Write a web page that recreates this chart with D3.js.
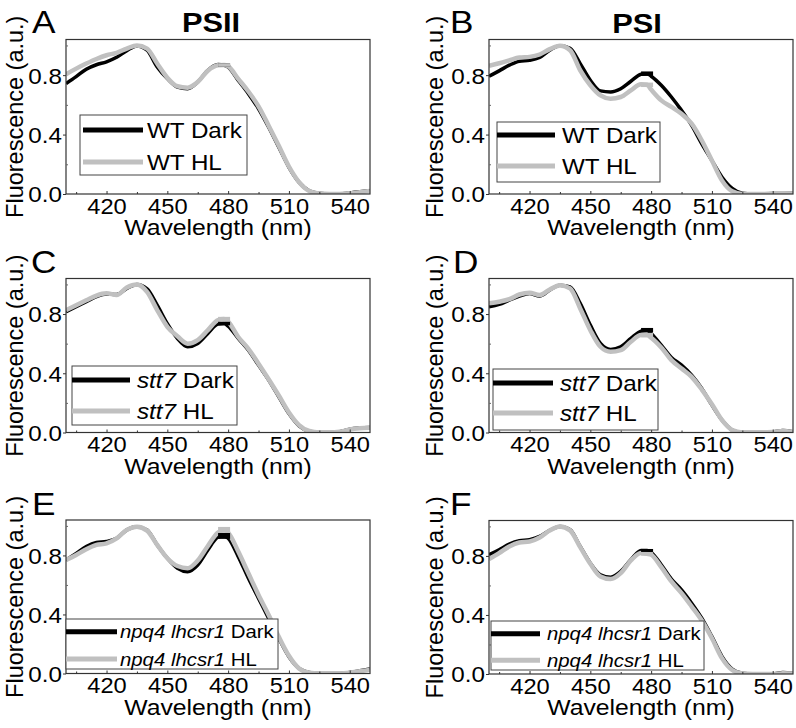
<!DOCTYPE html>
<html>
<head>
<meta charset="utf-8">
<script src="https://cdn.jsdelivr.net/npm/d3@7"></script>
<style>
  html, body { margin: 0; padding: 0; background: #fff; }
  svg { display: block; }
  text { font-family: "Liberation Sans", Arial, sans-serif; fill: #000; }
</style>
</head>
<body>
<svg id="chart" width="796" height="728"></svg>
<script>
// ---------------- data ----------------
const wavelengths = [400,405,410,415,420,425,430,435,440,445,450,455,460,465,470,475,478,480,485,490,495,500,505,510,515,520,525,530,535,540,545,550];

const xTicks = [420, 450, 480, 510, 540];
const xMinorTicks = [405, 435, 465, 495, 525];
const yTicks = [0.0, 0.4, 0.8];
const yMinorTicks = [0.2, 0.6, 1.0];

const panelLetters = ["A", "B", "C", "D", "E", "F"];
const columnTitles = ["PSII", "PSI"];
const genotypes = ["WT", "stt7", "npq4 lhcsr1"];
const conditions = ["Dark", "HL"];

const psiiWTDark = [0.743,0.79,0.84,0.87,0.89,0.92,0.965,0.997,0.968,0.855,0.777,0.72,0.709,0.754,0.833,0.871,0.867,0.855,0.765,0.675,0.574,0.45,0.315,0.18,0.079,0.022,0.005,0,0,0.007,0.016,0.022];
const psiiWTHL   = [0.806,0.844,0.878,0.909,0.934,0.95,0.979,1.0,0.979,0.878,0.783,0.725,0.716,0.754,0.83,0.866,0.868,0.86,0.775,0.69,0.59,0.46,0.325,0.185,0.08,0.02,0.003,0,0,0.005,0.012,0.02];
const psiWTDark  = [0.793,0.829,0.867,0.894,0.9,0.919,0.968,0.998,0.98,0.878,0.766,0.694,0.687,0.709,0.759,0.806,0.81,0.793,0.732,0.653,0.563,0.462,0.338,0.225,0.113,0.038,0.005,0,0,0.003,0.004,0.005];
const psiWTHL    = [0.863,0.88,0.9,0.919,0.923,0.939,0.975,0.998,0.968,0.833,0.732,0.664,0.642,0.653,0.698,0.739,0.735,0.703,0.63,0.586,0.54,0.473,0.36,0.225,0.09,0.018,0,0,0,0.003,0.003,0.003];
const psiiStt7Dark = [0.815,0.849,0.883,0.917,0.935,0.932,0.973,1.0,0.97,0.86,0.735,0.635,0.579,0.601,0.669,0.732,0.736,0.718,0.635,0.556,0.455,0.354,0.241,0.128,0.045,0.009,0,0,0.005,0.022,0.03,0.034];
const psiiStt7HL   = [0.826,0.86,0.893,0.925,0.94,0.928,0.98,1.0,0.95,0.827,0.714,0.65,0.6,0.624,0.691,0.759,0.766,0.748,0.645,0.565,0.465,0.36,0.25,0.135,0.05,0.01,0,0,0.005,0.02,0.028,0.032];
const psiStt7Dark  = [0.849,0.865,0.894,0.921,0.939,0.921,0.962,0.995,0.984,0.872,0.725,0.601,0.561,0.579,0.635,0.685,0.691,0.669,0.59,0.507,0.455,0.387,0.297,0.185,0.083,0.016,0,0,0,0.004,0.013,0.004];
const psiStt7HL    = [0.872,0.883,0.9,0.932,0.944,0.928,0.966,0.995,0.973,0.838,0.691,0.579,0.545,0.556,0.613,0.658,0.658,0.64,0.574,0.489,0.432,0.376,0.29,0.191,0.083,0.016,0,0,0,0.003,0.01,0.004];
const psiiNpqDark  = [0.769,0.814,0.86,0.887,0.894,0.916,0.973,0.995,0.973,0.871,0.781,0.713,0.69,0.735,0.837,0.923,0.932,0.916,0.792,0.645,0.509,0.373,0.238,0.113,0.034,0.007,0,0,0,0.007,0.018,0.03];
const psiiNpqHL    = [0.769,0.803,0.842,0.871,0.882,0.916,0.973,0.995,0.968,0.871,0.781,0.728,0.713,0.765,0.864,0.955,0.973,0.955,0.826,0.679,0.532,0.396,0.249,0.12,0.034,0.005,0,0,0,0.005,0.015,0.025];
const psiNpqDark   = [0.808,0.842,0.88,0.903,0.91,0.932,0.973,1.0,0.977,0.864,0.751,0.672,0.656,0.695,0.774,0.837,0.837,0.824,0.74,0.643,0.57,0.48,0.378,0.253,0.118,0.034,0.005,0,0,0,0.011,0.005];
const psiNpqHL     = [0.778,0.819,0.864,0.891,0.898,0.925,0.973,1.0,0.973,0.86,0.747,0.661,0.643,0.683,0.769,0.819,0.814,0.808,0.724,0.627,0.548,0.457,0.362,0.242,0.106,0.027,0.003,0,0,0,0.005,0.003];

// error bars shown at the 478 nm peak
const errWavelength = 478;
const errDark = [0.012, 0.015, 0.012, 0.015, 0.02, 0.01];
const errHL   = [0.012, 0.015, 0.015, 0.015, 0.02, 0.012];

const seriesDark = [psiiWTDark, psiWTDark, psiiStt7Dark, psiStt7Dark, psiiNpqDark, psiNpqDark];
const seriesHL   = [psiiWTHL, psiWTHL, psiiStt7HL, psiStt7HL, psiiNpqHL, psiNpqHL];

// ---------------- layout ----------------
const frames = [
  {x0: 66,  x1: 370, y0: 39.5,  y1: 194},
  {x0: 489, x1: 793, y0: 39.5,  y1: 194},
  {x0: 66,  x1: 370, y0: 278.5, y1: 432.5},
  {x0: 489, x1: 793, y0: 278.5, y1: 432.5},
  {x0: 66,  x1: 370, y0: 520,   y1: 673.5},
  {x0: 489, x1: 793, y0: 520.5, y1: 674}
];
const legendBoxes = [
  {x: 80,  y: 115, w: 167, h: 60, r1: 15, r2: 47, l0: 83,  l1: 143, tx: 147, fs: 22},
  {x: 497, y: 122, w: 163, h: 60, r1: 13, r2: 44, l0: 497, l1: 555, tx: 562, fs: 22},
  {x: 72,  y: 366, w: 165, h: 59, r1: 14, r2: 45, l0: 72,  l1: 130, tx: 137, fs: 22},
  {x: 493, y: 369, w: 165, h: 61, r1: 14, r2: 44, l0: 493, l1: 553, tx: 560, fs: 22},
  {x: 66,  y: 619, w: 212, h: 50, r1: 12.7, r2: 40, l0: 66,  l1: 117, tx: 120, fs: 18.5},
  {x: 491, y: 621, w: 213, h: 49, r1: 12.7, r2: 39.3, l0: 491, l1: 540, tx: 547, fs: 18.5}
];
const letterPos = [{x: 32, y: 33}, {x: 450, y: 33}, {x: 31, y: 273}, {x: 453, y: 273}, {x: 32, y: 515}, {x: 450, y: 515}];
const titlePos = [{x: 211, y: 32}, {x: 637, y: 33}];

const SX = 1.1; // horizontal stretch of the original typesetting
const darkColor = "#000000";
const hlColor = "#c0c0c0";

const svg = d3.select("#chart");

function stretchText(sel, x, y, sx) {
  return sel.attr("transform", `translate(${x},${y}) scale(${sx},1)`);
}

// titles
columnTitles.forEach((t, i) => {
  stretchText(svg.append("text"), titlePos[i].x, titlePos[i].y, SX)
    .attr("text-anchor", "middle").attr("font-size", 28).attr("font-weight", "bold").text(t);
});

frames.forEach((f, i) => {
  const g = svg.append("g");
  const x = d3.scaleLinear().domain([400, 550]).range([f.x0, f.x1]);
  const y = d3.scaleLinear().domain([0, 1.04]).range([f.y1, f.y0]);

  // panel letter
  stretchText(g.append("text"), letterPos[i].x, letterPos[i].y, SX)
    .attr("font-size", 32).text(panelLetters[i]);

  // clip
  const clipId = "clip" + i;
  g.append("clipPath").attr("id", clipId).append("rect")
    .attr("x", f.x0).attr("y", f.y0).attr("width", f.x1 - f.x0).attr("height", f.y1 - f.y0);

  const line = d3.line().x((d, k) => x(wavelengths[k])).y(d => y(d)).curve(d3.curveMonotoneX);
  const plot = g.append("g").attr("clip-path", `url(#${clipId})`);
  const k478 = wavelengths.indexOf(errWavelength);

  plot.append("path").datum(seriesDark[i]).attr("d", line)
    .attr("fill", "none").attr("stroke", darkColor).attr("stroke-width", 3.5).attr("stroke-linejoin", "round");
  plot.append("path").datum(seriesHL[i]).attr("d", line)
    .attr("fill", "none").attr("stroke", hlColor).attr("stroke-width", 4.5).attr("stroke-linejoin", "round");

  // error caps at 478 nm
  [[seriesDark[i], errDark[i], darkColor], [seriesHL[i], errHL[i], hlColor]].forEach(([s, e, c]) => {
    const v = s[k478];
    plot.append("rect")
      .attr("x", x(errWavelength) - 6).attr("width", 12)
      .attr("y", y(v + e)).attr("height", y(v - e) - y(v + e))
      .attr("fill", c);
  });

  // frame
  g.append("rect").attr("x", f.x0).attr("y", f.y0).attr("width", f.x1 - f.x0).attr("height", f.y1 - f.y0)
    .attr("fill", "none").attr("stroke", "#333").attr("stroke-width", 1.2);

  // x axis
  const xa = g.append("g").attr("transform", `translate(0,${f.y1})`)
    .call(d3.axisBottom(x).tickValues(xTicks).tickSize(-3).tickPadding(0).tickFormat(d3.format("d")));
  xa.select(".domain").remove();
  xa.selectAll(".tick line").attr("stroke", "#333");
  xa.selectAll(".tick text").attr("font-size", 21.5).attr("font-family", "Liberation Sans, Arial, sans-serif")
    .attr("y", 20).attr("dy", "0").attr("transform", `scale(${SX},1)`);
  const xm = g.append("g").attr("transform", `translate(0,${f.y1})`)
    .call(d3.axisBottom(x).tickValues(xMinorTicks).tickSize(-2).tickFormat(""));
  xm.select(".domain").remove();
  xm.selectAll(".tick line").attr("stroke", "#333");

  // y axis
  const ya = g.append("g").attr("transform", `translate(${f.x0},0)`)
    .call(d3.axisLeft(y).tickValues(yTicks).tickSize(3).tickPadding(1).tickFormat(d3.format(".1f")));
  ya.select(".domain").remove();
  ya.selectAll(".tick line").attr("stroke", "#333");
  ya.selectAll(".tick text").attr("font-size", 22).attr("font-family", "Liberation Sans, Arial, sans-serif")
    .attr("x", 0).attr("dy", "0.36em").attr("transform", `translate(-4,0) scale(${SX},1)`);
  const ym = g.append("g").attr("transform", `translate(${f.x0},0)`)
    .call(d3.axisLeft(y).tickValues(yMinorTicks).tickSize(-2).tickFormat(""));
  ym.select(".domain").remove();
  ym.selectAll(".tick line").attr("stroke", "#666");

  // axis titles
  g.append("text")
    .attr("transform", `translate(${(f.x0 + f.x1) / 2},${f.y1 + 41}) scale(${SX},1)`)
    .attr("text-anchor", "middle").attr("font-size", 22.5).text("Wavelength (nm)");
  const ylx = (i % 2 === 0) ? 23 : 443;
  g.append("text")
    .attr("transform", `translate(${ylx},${(f.y0 + f.y1) / 2}) scale(1.05,1) rotate(-90)`)
    .attr("text-anchor", "middle").attr("font-size", 23.5).text("Fluorescence (a.u.)");

  // legend
  const lb = legendBoxes[i];
  g.append("rect").attr("x", lb.x).attr("y", lb.y).attr("width", lb.w).attr("height", lb.h)
    .attr("fill", "#fff").attr("stroke", "#444").attr("stroke-width", 1);
  const geno = genotypes[Math.floor(i / 2)];
  [[darkColor, conditions[0], lb.r1], [hlColor, conditions[1], lb.r2]].forEach(([c, cond, ry]) => {
    g.append("line").attr("x1", lb.l0).attr("x2", lb.l1).attr("y1", lb.y + ry).attr("y2", lb.y + ry)
      .attr("stroke", c).attr("stroke-width", 5);
    const t = g.append("text")
      .attr("transform", `translate(${lb.tx},${lb.y + ry + lb.fs * 0.36}) scale(${SX},1)`)
      .attr("font-size", lb.fs);
    if (geno === "WT") {
      t.append("tspan").text(geno + " ");
    } else {
      t.append("tspan").attr("font-style", "italic").text(geno);
      t.append("tspan").text(" ");
    }
    t.append("tspan").text(cond);
  });
});
</script>
</body>
</html>
